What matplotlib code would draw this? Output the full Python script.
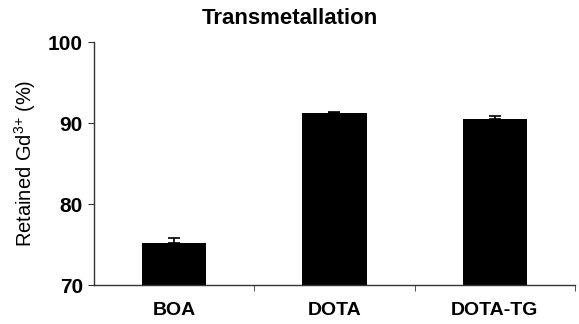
import matplotlib.pyplot as plt
import numpy as np

categories = ["BOA", "DOTA", "DOTA-TG"]
retained = [75.2, 91.2, 90.5]
errors = [0.6, 0.2, 0.35]

plt.rcParams['font.family'] = ['Liberation Sans', 'DejaVu Sans']
plt.rcParams['mathtext.default'] = 'regular'

fig = plt.figure(figsize=(5.79, 3.24), dpi=100)
ax = fig.add_axes([0.1623, 0.1194, 0.8307, 0.7506])

x = np.arange(len(categories))
lower = np.zeros(len(errors))
ax.bar(x, retained, width=0.4, color='black')
ax.errorbar(x, retained, yerr=[lower, errors], fmt='none', ecolor='black',
            elinewidth=1.2, capsize=4, capthick=1.2)

ax.set_xlim(-0.5, 2.5)
ax.set_ylim(70, 100)
ax.set_yticks([70, 80, 90, 100])
ax.set_xticks(x)
ax.set_xticklabels(categories, fontweight='bold', fontsize=14)
ax.set_xticks([0.5, 1.5, 2.5], minor=True)
ax.tick_params(axis='x', which='major', length=0, pad=12)
ax.tick_params(axis='x', which='minor', length=4, direction='out', color='#333333')
ax.tick_params(axis='y', length=4, direction='out', color='#333333', labelsize=15, pad=4)
for lbl in ax.get_yticklabels():
    lbl.set_fontweight('bold')

for s in ['top', 'right']:
    ax.spines[s].set_visible(False)
for s in ['left', 'bottom']:
    ax.spines[s].set_color('#333333')
    ax.spines[s].set_linewidth(1.0)

ax.set_ylabel('Retained Gd$^{3{+}}$ (%)', fontsize=14.5)
ax.yaxis.set_label_coords(-0.117, 0.5)
fig.text(0.5, 1 - 18 / 324, 'Transmetallation', fontweight='bold', fontsize=16,
         ha='center', va='center')

fig.savefig('out.png', dpi=100)
